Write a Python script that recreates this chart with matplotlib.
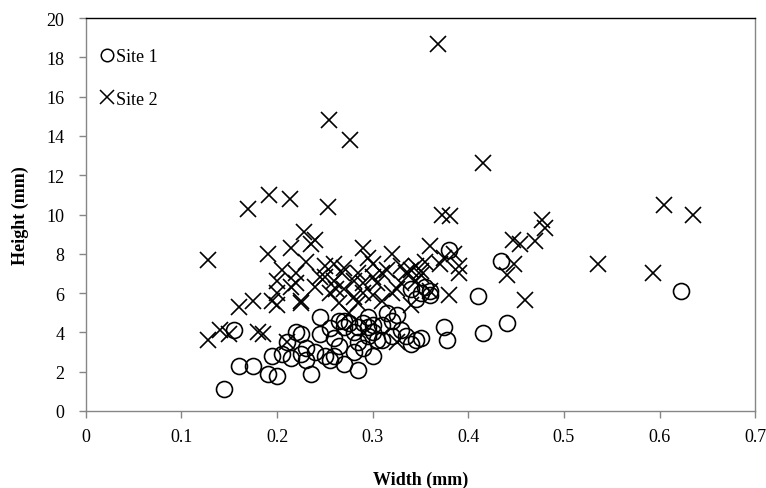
import matplotlib
matplotlib.use("Agg")
import matplotlib.pyplot as plt
from matplotlib.lines import Line2D

plt.rcParams['font.family'] = ['Liberation Serif', 'DejaVu Serif']

# Site 1 measurements (width, height in mm)
site1_width = [0.145, 0.155, 0.160, 0.175, 0.190, 0.195, 0.200, 0.205, 0.210, 0.215,
               0.220, 0.225, 0.225, 0.230, 0.235, 0.240, 0.245, 0.245, 0.250, 0.255,
               0.255, 0.260, 0.265, 0.270, 0.270, 0.275, 0.280, 0.280, 0.285, 0.285,
               0.290, 0.290, 0.295, 0.300, 0.300, 0.305, 0.310, 0.315, 0.320, 0.325,
               0.330, 0.335, 0.340, 0.345, 0.350, 0.350, 0.355, 0.360, 0.375, 0.378,
               0.380, 0.410, 0.415, 0.434, 0.440, 0.622, 0.310, 0.340, 0.265, 0.295,
               0.270, 0.285, 0.300, 0.320, 0.260, 0.295, 0.345, 0.230, 0.360]
site1_height = [1.1, 4.1, 2.3, 2.3, 1.9, 2.8, 1.8, 2.9, 3.5, 2.7,
                4.0, 2.9, 3.9, 2.6, 1.9, 3.0, 4.8, 3.9, 2.8, 2.6,
                4.2, 3.7, 3.3, 4.3, 2.4, 4.5, 4.0, 3.0, 2.1, 3.5,
                4.5, 3.2, 4.8, 2.8, 4.0, 3.6, 4.4, 5.0, 4.6, 4.9,
                4.1, 3.8, 3.4, 5.7, 6.0, 3.7, 6.3, 5.9, 4.3, 3.6,
                8.2, 5.84, 3.95, 7.65, 4.48, 6.1, 3.6, 6.2, 4.6, 4.3,
                4.6, 4.3, 4.4, 3.8, 2.8, 3.8, 3.6, 3.2, 6.1]

# Site 2 measurements (width, height in mm)
site2_width = [0.128, 0.128, 0.140, 0.150, 0.160, 0.170, 0.175, 0.180, 0.185, 0.190,
               0.192, 0.195, 0.200, 0.200, 0.205, 0.210, 0.213, 0.215, 0.215, 0.220,
               0.225, 0.228, 0.230, 0.235, 0.240, 0.240, 0.245, 0.250, 0.253, 0.254,
               0.255, 0.260, 0.265, 0.268, 0.270, 0.275, 0.276, 0.280, 0.285, 0.285,
               0.290, 0.290, 0.295, 0.300, 0.300, 0.305, 0.310, 0.315, 0.320, 0.325,
               0.330, 0.335, 0.340, 0.345, 0.345, 0.350, 0.355, 0.360, 0.360, 0.368,
               0.372, 0.381, 0.375, 0.380, 0.385, 0.390, 0.390, 0.415, 0.440, 0.448,
               0.447, 0.454, 0.459, 0.470, 0.477, 0.480, 0.536, 0.593, 0.605, 0.635,
               0.325, 0.225, 0.260, 0.280, 0.220, 0.250, 0.270, 0.290, 0.310, 0.320,
               0.330, 0.340, 0.300, 0.262, 0.200, 0.350, 0.370]
site2_height = [7.7, 3.6, 4.1, 3.9, 5.3, 10.3, 5.6, 4.0, 3.9, 8.0,
                11.0, 5.6, 6.6, 5.4, 7.2, 3.5, 10.8, 8.3, 6.3, 7.0,
                5.5, 9.1, 7.6, 8.5, 6.3, 8.7, 6.8, 7.4, 10.4, 14.8,
                6.0, 7.5, 5.5, 7.0, 6.2, 5.0, 13.8, 6.6, 7.0, 5.5,
                8.3, 6.0, 7.8, 7.5, 5.9, 6.5, 5.6, 7.2, 8.0, 6.2,
                7.4, 7.0, 5.4, 6.6, 7.4, 6.9, 7.6, 8.4, 6.1, 18.7,
                10.0, 9.9, 7.8, 5.9, 8.0, 7.4, 7.0, 12.6, 6.9, 7.5,
                8.7, 8.5, 5.65, 8.67, 9.7, 9.3, 7.5, 7.0, 10.5, 10.0,
                3.5, 5.6, 6.6, 5.8, 6.5, 6.8, 7.3, 6.5, 7.0, 6.0,
                6.5, 7.2, 6.8, 6.2, 6.0, 7.1, 7.5]

x_ticks = [0, 0.1, 0.2, 0.3, 0.4, 0.5, 0.6, 0.7]
x_tick_labels = ['0', '0.1', '0.2', '0.3', '0.4', '0.5', '0.6', '0.7']
y_ticks = list(range(0, 21, 2))

fig = plt.figure(figsize=(7.66, 4.89), dpi=100)
ax = fig.add_axes([0.112, 0.1575, 0.874, 0.8035])

ax.plot(site1_width, site1_height, linestyle='none', marker='o', markersize=11.5,
        markerfacecolor='none', markeredgecolor='black', markeredgewidth=1.2)
ax.plot(site2_width, site2_height, linestyle='none', marker='x', markersize=12,
        color='black', markeredgewidth=1.2)

ax.set_xlim(0, 0.7)
ax.set_ylim(0, 20)
ax.set_xticks(x_ticks)
ax.set_xticklabels(x_tick_labels)
ax.set_yticks(y_ticks)

grey = '#868686'
for side in ['left', 'bottom', 'right']:
    ax.spines[side].set_color(grey)
    ax.spines[side].set_linewidth(1.0)
ax.spines['top'].set_color('black')
ax.spines['top'].set_linewidth(1.0)

ax.tick_params(axis='both', direction='out', length=5, width=1.0, color=grey,
               labelsize=13, labelcolor='black')
ax.tick_params(axis='x', pad=7)
ax.tick_params(axis='y', pad=10.5)

ax.set_xlabel('Width (mm)', fontsize=13, fontweight='bold', labelpad=19)
ax.set_ylabel('Height (mm)', fontsize=13, fontweight='bold', labelpad=12.5)

handles = [
    Line2D([], [], linestyle='none', marker='o', markersize=9,
           markerfacecolor='none', markeredgecolor='black', markeredgewidth=1.1),
    Line2D([], [], linestyle='none', marker='x', markersize=10,
           color='black', markeredgewidth=1.1),
]
ax.legend(handles, ['Site 1', 'Site 2'], loc='upper left', frameon=False,
          fontsize=13, handlelength=0.8, handletextpad=0.1, labelspacing=1.4,
          borderaxespad=0.4, bbox_to_anchor=(0.0, 0.96))

fig.savefig('out.png', dpi=100)
